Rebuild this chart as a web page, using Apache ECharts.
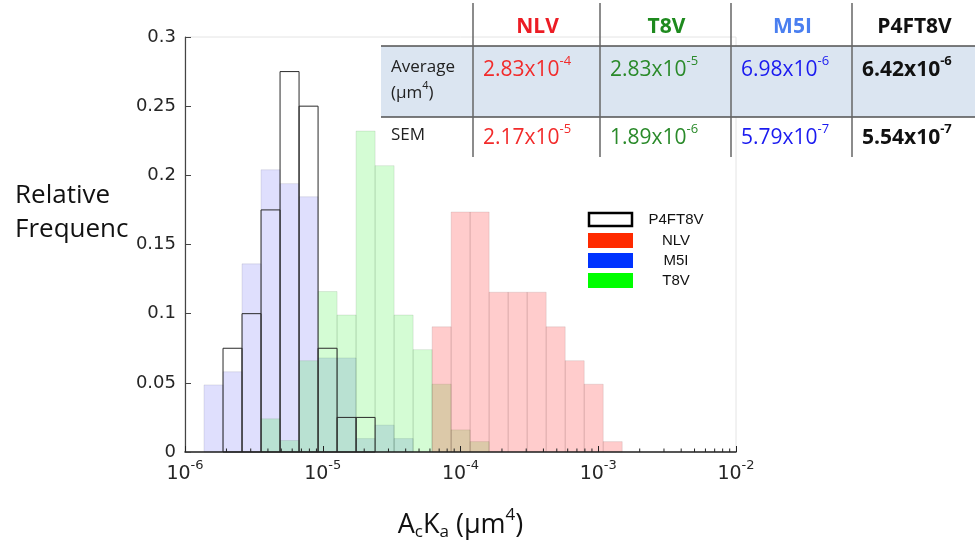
<!DOCTYPE html>
<html>
<head>
<meta charset="utf-8">
<script src="https://cdn.jsdelivr.net/npm/echarts@6/dist/echarts.min.js"></script>
<style>
  html, body { margin: 0; padding: 0; background: #fff; }
  #main { width: 975px; height: 546px; }
</style>
</head>
<body>
<div id="main"></div>
<script>
// bin edges, as log10 of AcKa (um^4)
const binEdges = [-5.862, -5.724, -5.586, -5.448, -5.31, -5.172, -5.034, -4.896, -4.758, -4.62,
  -4.482, -4.344, -4.206, -4.068, -3.93, -3.792, -3.654, -3.516, -3.378, -3.24, -3.102, -2.964, -2.826];

// relative frequency per bin (22 bins)
const freqM5I = [0.0485, 0.058, 0.136, 0.204, 0.194, 0.1845, 0.068, 0.068, 0.0097, 0.0194, 0.0097,
  0, 0, 0, 0, 0, 0, 0, 0, 0, 0, 0];
const freqT8V = [0, 0, 0, 0.024, 0.0083, 0.066, 0.116, 0.099, 0.232, 0.207, 0.099,
  0.074, 0.049, 0.016, 0.0075, 0, 0, 0, 0, 0, 0, 0];
const freqNLV = [0, 0, 0, 0, 0, 0, 0, 0, 0, 0, 0,
  0, 0.0905, 0.1735, 0.1735, 0.1155, 0.1155, 0.1155, 0.0905, 0.066, 0.049, 0.0075];
const freqP4FT8V = [0, 0.075, 0.1, 0.175, 0.275, 0.25, 0.075, 0.025, 0.025, 0, 0,
  0, 0, 0, 0, 0, 0, 0, 0, 0, 0, 0];

const xTickExps = [-6, -5, -4, -3, -2];
const yTicks = [0, 0.05, 0.1, 0.15, 0.2, 0.25, 0.3];

// summary table
const tableCols = ['NLV', 'T8V', 'M5I', 'P4FT8V'];
const avgMant = ['2.83', '2.83', '6.98', '6.42'];
const avgExp = ['-4', '-5', '-6', '-6'];
const semMant = ['2.17', '1.89', '5.79', '5.54'];
const semExp = ['-5', '-6', '-7', '-7'];

const legendNames = ['P4FT8V', 'NLV', 'M5I', 'T8V'];

const chart = echarts.init(document.getElementById('main'), null, { renderer: 'canvas' });

const G = { left: 185, top: 37, width: 551, height: 419 };

// minor ticks of the log axis (2..9 in each decade)
const minorTicks = [];
for (let e = xTickExps[0]; e < xTickExps[xTickExps.length - 1]; e++) {
  for (let m = 2; m <= 9; m++) minorTicks.push([e + Math.log10(m), 0]);
}

function histSeries(name, freqs, fill, stroke, z) {
  const data = [];
  freqs.forEach((f, i) => {
    if (f > 0) data.push([binEdges[i], binEdges[i + 1], f]);
  });
  return {
    type: 'custom',
    name: name,
    z: z,
    data: data,
    encode: { x: [0, 1], y: 2 },
    renderItem(params, api) {
      const a = api.coord([api.value(0), api.value(2)]);
      const b = api.coord([api.value(1), 0]);
      return {
        type: 'rect',
        shape: { x: a[0], y: a[1], width: b[0] - a[0], height: b[1] - a[1] },
        style: { fill: fill, stroke: stroke, lineWidth: 1 }
      };
    }
  };
}

const calibri = '"Open Sans", "Noto Sans", sans-serif';
const helv = '"DejaVu Sans", "Liberation Sans", sans-serif';

// table graphic
const colX = [473, 600, 731, 852, 975];
const colColors = ['#ec1c24', '#1e8a1e', '#4a7ff0', '#111'];
const valColors = ['#f22b2b', '#2a8a2a', '#1a1af0', '#111'];
const tableEls = [
  { type: 'rect', shape: { x: 381, y: 46, width: 594, height: 71 }, style: { fill: '#dbe5f1' } },
  { type: 'line', shape: { x1: 381, y1: 46, x2: 975, y2: 46 }, style: { stroke: '#505050', lineWidth: 1.5 } },
  { type: 'line', shape: { x1: 381, y1: 117, x2: 975, y2: 117 }, style: { stroke: '#505050', lineWidth: 1.5 } },
  { type: 'text', x: 391, y: 67, style: { text: 'Average', font: '17px ' + calibri, fill: '#222', verticalAlign: 'middle' } },
  { type: 'text', x: 391, y: 91, style: {
    text: '{b|(μm}{s|4}{b|)}', verticalAlign: 'middle',
    rich: {
      b: { fontFamily: calibri, fontSize: 17, fill: '#222', lineHeight: 22, verticalAlign: 'bottom' },
      s: { fontFamily: calibri, fontSize: 11, fill: '#222', verticalAlign: 'top' }
    }
  } },
  { type: 'text', x: 391, y: 135, style: { text: 'SEM', font: '17px ' + calibri, fill: '#222', verticalAlign: 'middle' } }
];
for (let i = 0; i < 4; i++) {
  tableEls.push({ type: 'line', shape: { x1: colX[i], y1: 3, x2: colX[i], y2: 157 }, style: { stroke: '#666', lineWidth: 1.5 } });
  tableEls.push({ type: 'text', x: (colX[i] + colX[i + 1]) / 2 + 1, y: 27, style: {
    text: tableCols[i], font: 'bold 21px ' + calibri, fill: colColors[i], align: 'center', verticalAlign: 'middle'
  } });
  const w = i === 3 ? 'bold' : 'normal';
  const rich = {
    b: { fontFamily: calibri, fontSize: 21, fontWeight: w, fill: valColors[i], lineHeight: 26, verticalAlign: 'bottom' },
    s: { fontFamily: calibri, fontSize: 13, fontWeight: w, fill: valColors[i], verticalAlign: 'top' }
  };
  tableEls.push({ type: 'text', x: colX[i] + 10, y: 68, style: {
    text: '{b|' + avgMant[i] + 'x10}{s|' + avgExp[i] + '}', rich: rich, verticalAlign: 'middle'
  } });
  tableEls.push({ type: 'text', x: colX[i] + 10, y: 136, style: {
    text: '{b|' + semMant[i] + 'x10}{s|' + semExp[i] + '}', rich: rich, verticalAlign: 'middle'
  } });
}

// legend graphic
const legendFill = ['#fff', '#ff2a00', '#0033ff', '#00ff00'];
const legendY = [212, 233, 253, 273];
const legendEls = [];
legendNames.forEach((n, i) => {
  legendEls.push({
    type: 'rect',
    shape: i === 0 ? { x: 589, y: legendY[i] + 1, width: 43, height: 13 } : { x: 588, y: legendY[i], width: 45, height: 15 },
    style: i === 0 ? { fill: '#fff', stroke: '#000', lineWidth: 2.5 } : { fill: legendFill[i] }
  });
  legendEls.push({ type: 'text', x: 676, y: legendY[i] + 7.5, style: {
    text: n, font: '15px "Liberation Sans", Arial, sans-serif', fill: '#111', align: 'center', verticalAlign: 'middle'
  } });
});

const option = {
  backgroundColor: '#fff',
  animation: false,
  grid: {
    left: G.left, top: G.top, width: G.width, height: G.height,
    show: true, borderColor: '#e4e4e4', borderWidth: 1, backgroundColor: 'transparent'
  },
  xAxis: {
    type: 'value', min: -6, max: -2, interval: 1, z: 10,
    axisLine: { show: true, onZero: false, lineStyle: { color: '#222', width: 1.5 } },
    axisTick: { show: true, inside: true, length: 6, lineStyle: { color: '#222' } },
    splitLine: { show: false },
    axisLabel: {
      margin: 7,
      formatter: v => '{b|10}{s|' + v + '}',
      rich: {
        b: { fontFamily: helv, fontSize: 19, color: '#262626', lineHeight: 25, verticalAlign: 'bottom' },
        s: { fontFamily: helv, fontSize: 13, color: '#262626', verticalAlign: 'top' }
      }
    },
    name: '{b|A}{d|c}{b|K}{d|a}{b| (μm}{u|4}{b|)}',
    nameLocation: 'middle',
    nameGap: 55,
    nameTextStyle: {
      rich: {
        b: { fontFamily: calibri, fontSize: 27, color: '#111', lineHeight: 36, verticalAlign: 'middle' },
        d: { fontFamily: calibri, fontSize: 17, color: '#111', verticalAlign: 'bottom', padding: [0, 0, 2, 0] },
        u: { fontFamily: calibri, fontSize: 17, color: '#111', verticalAlign: 'top' }
      }
    }
  },
  yAxis: {
    type: 'value', min: yTicks[0], max: yTicks[yTicks.length - 1], interval: 0.05, z: 10,
    axisLine: { show: true, lineStyle: { color: '#444', width: 1.2 } },
    axisTick: { show: true, inside: true, length: 6, lineStyle: { color: '#444' } },
    splitLine: { show: false },
    axisLabel: { margin: 9, fontFamily: helv, fontSize: 18, color: '#262626' }
  },
  series: [
    histSeries('M5I', freqM5I, 'rgba(0,0,240,0.125)', 'rgba(60,60,90,0.12)', 2),
    histSeries('T8V', freqT8V, 'rgba(0,235,0,0.17)', 'rgba(60,90,60,0.12)', 3),
    histSeries('NLV', freqNLV, 'rgba(255,0,0,0.2)', 'rgba(90,60,60,0.12)', 4),
    histSeries('P4FT8V', freqP4FT8V, 'none', '#2a2a2a', 5),
    {
      type: 'custom', name: 'minorTicks', z: 11, data: minorTicks,
      renderItem(params, api) {
        const p = api.coord([api.value(0), 0]);
        return { type: 'line', shape: { x1: p[0], y1: p[1], x2: p[0], y2: p[1] - 3.5 }, style: { stroke: '#222', lineWidth: 1 } };
      }
    }
  ],
  graphic: [
    { type: 'text', left: 15, top: 183, style: { text: 'Relative', font: '26px ' + calibri, fill: '#111' } },
    { type: 'text', left: 15, top: 217, style: { text: 'Frequenc', font: '26px ' + calibri, fill: '#111' } },
    { type: 'group', children: tableEls },
    { type: 'group', children: legendEls }
  ]
};

chart.setOption(option);
</script>
</body>
</html>
